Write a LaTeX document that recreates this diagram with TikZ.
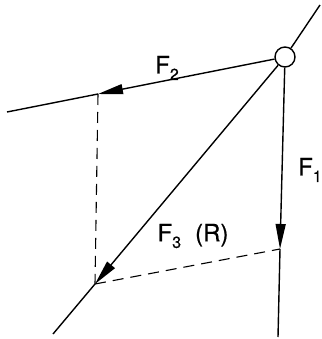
\documentclass[tikz,border=0pt]{standalone}
\usepackage{fontspec}
\setmainfont{TeX Gyre Heros}[FakeBold=0]
\newfontfamily\lblfont{TeX Gyre Heros}[FakeBold=0.7]
\usetikzlibrary{arrows.meta}
\newcommand{\fsub}[1]{\raisebox{-6.5pt}{\fontsize{16}{16}\selectfont #1}}
\begin{document}
\begin{tikzpicture}[x=1pt,y=-1pt,
  plain/.style={line width=1.4pt},
  force/.style={line width=1.4pt,-{Triangle[length=25pt,width=10pt]}},
  dashline/.style={line width=1.1pt,dash pattern=on 11pt off 7pt},
  lbl/.style={font=\lblfont\fontsize{24}{28}\selectfont,inner sep=0pt},
  joint/.style={circle,draw,line width=1.4pt,minimum size=20pt,inner sep=0pt,fill=white}]
\useasboundingbox (0,0) rectangle (321,339);
\node[joint] (C) at (285,57) {};
\coordinate (e0) at (320,5);
\coordinate (t2) at (98,94);
\coordinate (e2) at (7,112);
\coordinate (t3) at (95,284);
\coordinate (e3) at (53,334);
\coordinate (t1) at (280,249);
\coordinate (e1) at (278,337);
% lines
\draw[plain] (C) -- (e0);
\draw[force] (C) -- (t2);
\draw[plain] (t2) -- (e2);
\draw[force] (C) -- (t3);
\draw[plain] (t3) -- (e3);
\draw[force] (C) -- (t1);
\draw[plain] (t1) -- (e1);
% dashed parallelogram
\draw[dashline] (t2) -- (t3);
\draw[dashline] (t3) -- (t1);
% labels
\node[lbl] (l2) at (167,68) {F\fsub{2}};
\node[lbl] (l1) at (310,170) {F\fsub{1}};
\node[lbl] (l3) at (193,236) {F\fsub{3}\hspace{14pt}(R)};
\end{tikzpicture}
\end{document}
